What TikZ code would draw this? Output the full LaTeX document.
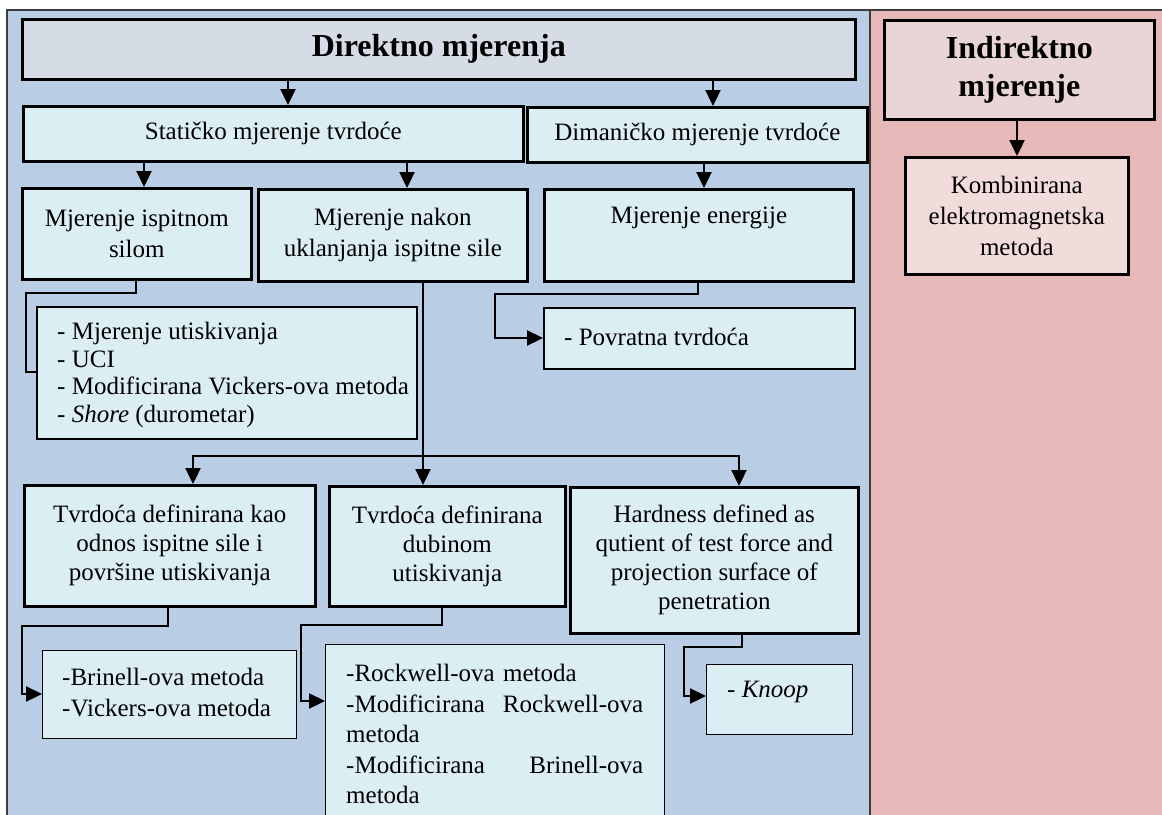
\documentclass[tikz,border=0pt]{standalone}
\usepackage{fontspec}
\setmainfont{Liberation Serif}
\usetikzlibrary{arrows.meta}
\definecolor{panelblue}{RGB}{185,205,228}
\definecolor{panelpink}{RGB}{230,184,183}
\definecolor{titlefill}{RGB}{214,220,230}
\definecolor{boxfill}{RGB}{219,238,243}
\definecolor{indfill}{RGB}{233,213,213}
\definecolor{kombfill}{RGB}{242,220,219}
\definecolor{framegray}{RGB}{60,60,60}
\begin{document}
\begin{tikzpicture}[x=1pt,y=-1pt,
  every node/.style={font=\fontsize{25}{29}\selectfont, text=black},
  box/.style={draw=black, line width=2.6pt, fill=boxfill, anchor=north west, inner sep=0pt, align=center},
  medbox/.style={box, line width=2pt},
  thinbox/.style={box, line width=1.3pt},
  txt/.style={inner sep=0pt, align=left},
  con/.style={line width=2.3pt, line join=miter},
  arr/.style={con, -{Triangle[length=16pt,width=15pt]}},
  bigtxt/.style={font=\fontsize{32}{38}\selectfont\bfseries},
]
\useasboundingbox (0,0) rectangle (1162,814);
\clip (0,0) rectangle (1162,814);
% panels
\fill[white] (0,0) rectangle (1162,814);
\fill[panelblue] (7,10) rectangle (870,830);
\fill[panelpink] (870,10) rectangle (1170,830);
\draw[framegray, line width=1.5pt] (7,830) -- (7,10) -- (1170,10);
\draw[framegray, line width=2pt] (870,10) -- (870,830);

% boxes
\node[box, fill=titlefill, minimum width=833pt, minimum height=60pt, bigtxt] (title) at (21,18) {Direktno mjerenja};
\node[box, minimum width=500pt, minimum height=55pt] (stat) at (22,105) {Statičko mjerenje tvrdoće};
\node[box, minimum width=340pt, minimum height=55pt] (dyn) at (526,106) {Dimaničko mjerenje tvrdoće};
\node[box, minimum width=229pt, minimum height=91pt, font=\fontsize{25}{31}\selectfont] (isp) at (21,187) {Mjerenje ispitnom\\silom};
\node[box, minimum width=269pt, minimum height=92pt, font=\fontsize{25}{31}\selectfont] (nak) at (257,188) {Mjerenje nakon\\uklanjanja ispitne sile};
\node[box, minimum width=309pt, minimum height=92pt, font=\fontsize{25}{31}\selectfont] (ene) at (543,188) {Mjerenje energije\\\strut};
\node[medbox, minimum width=380pt, minimum height=132pt] (lst) at (36,306) {};
\node[txt, anchor=west, font=\fontsize{25}{27.5}\selectfont] (lsttxt) at (57,375) {- Mjerenje utiskivanja\\- UCI\\- Modificirana Vickers-ova metoda\\- \textit{Shore} (durometar)};
\node[medbox, minimum width=311pt, minimum height=61pt] (pov) at (543,307) {};
\node[txt, anchor=west] (povtxt) at (564,337) {- Povratna tvrdoća};

\node[box, minimum width=291pt, minimum height=121pt] (tv1) at (23,484) {Tvrdoća definirana kao\\odnos ispitne sile i\\površine utiskivanja};
\node[box, minimum width=236pt, minimum height=120pt] (tv2) at (328,485) {Tvrdoća definirana\\dubinom\\utiskivanja};
\node[box, minimum width=288pt, minimum height=146pt] (hard) at (569,486) {Hardness defined as\\qutient of test force and\\projection surface of\\penetration};

\node[thinbox, minimum width=254pt, minimum height=88pt] (brin) at (42,650) {};
\node[txt, anchor=west, font=\fontsize{25}{31}\selectfont] (brintxt) at (62,693) {-Brinell-ova metoda\\-Vickers-ova metoda};
\node[thinbox, minimum width=339pt, minimum height=200pt] (rock) at (325,644) {};
\node[txt, anchor=north west, text width=297pt, font=\fontsize{25}{30.5}\selectfont] (rocktxt) at (346,660) {\strut-Rockwell-ova metoda\\-Modificirana\hfill Rockwell-ova\\metoda\\-Modificirana\hfill Brinell-ova\\metoda};
\node[thinbox, minimum width=146pt, minimum height=70pt] (knoop) at (706,664) {};
\node[txt, anchor=west] (knooptxt) at (727,692) {- \textit{Knoop}};

\node[box, fill=indfill, minimum width=270pt, minimum height=99pt, bigtxt] (ind) at (883,19) {Indirektno\\mjerenje};
\node[box, fill=kombfill, minimum width=223pt, minimum height=117pt, font=\fontsize{25}{31}\selectfont] (komb) at (904,156) {Kombinirana\\elektromagnetska\\metoda};

% connectors
\draw[arr] (288,0 |- title.south) -- (288,0 |- stat.north);
\draw[arr] (713,0 |- title.south) -- (713,0 |- dyn.north);
\draw[arr] (144,0 |- stat.south) -- (144,0 |- isp.north);
\draw[arr] (407,0 |- stat.south) -- (407,0 |- nak.north);
\draw[arr] (704,0 |- dyn.south) -- (704,0 |- ene.north);
\draw[con] (136,0 |- isp.south) -- (136,293) -- (26,293) -- (26,372) -- (lst.west |- 0,372);
\draw[arr] (698,0 |- ene.south) -- (698,294) -- (495,294) -- (495,338) -- (pov.west |- 0,338);
\draw[arr] (423,0 |- nak.south) -- (423,0 |- tv2.north);
\draw[arr] (424,456) -- (193,456) -- (193,0 |- tv1.north);
\draw[arr] (422,456) -- (739,456) -- (739,0 |- hard.north);
\draw[arr] (168,0 |- tv1.south) -- (168,626) -- (22,626) -- (22,694) -- (brin.west |- 0,694);
\draw[arr] (442,0 |- tv2.south) -- (442,625) -- (301,625) -- (301,701) -- (rock.west |- 0,701);
\draw[arr] (742,0 |- hard.south) -- (742,647) -- (684,647) -- (684,696) -- (knoop.west |- 0,696);
\draw[arr] (1017,0 |- ind.south) -- (1017,0 |- komb.north);
\end{tikzpicture}
\end{document}
